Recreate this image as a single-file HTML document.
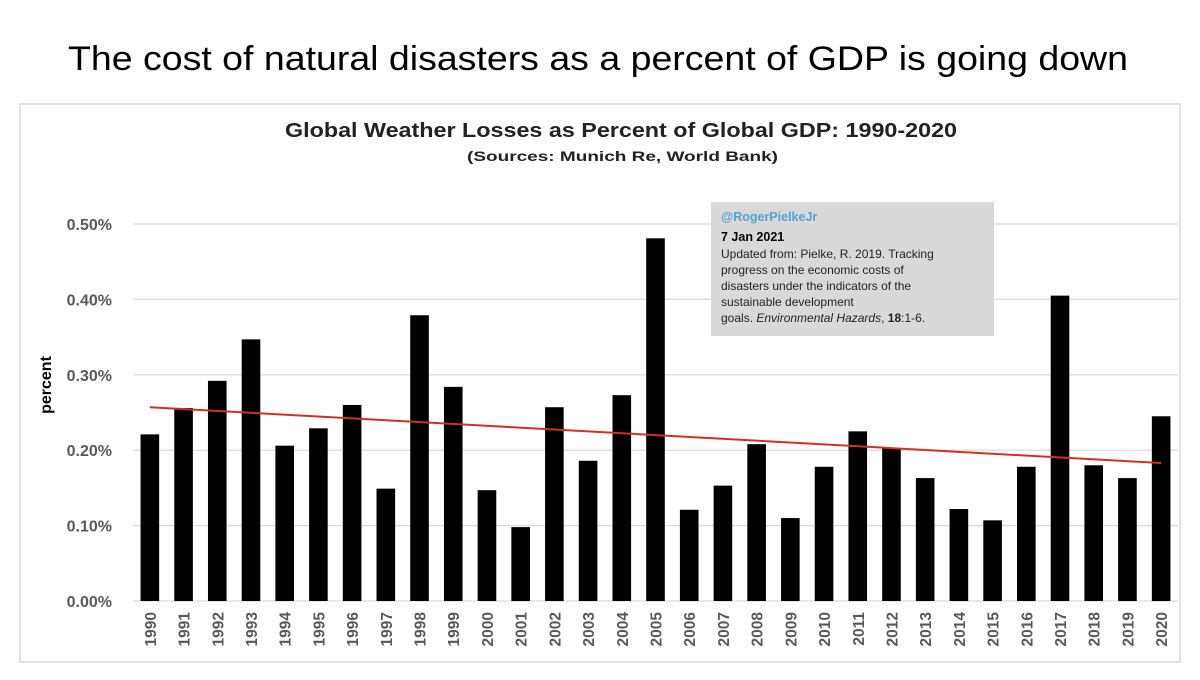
<!DOCTYPE html>
<html><head><meta charset="utf-8"><style>
body{margin:0;background:#fff;width:1200px;height:675px;overflow:hidden;font-family:"Liberation Sans",sans-serif}
</style></head><body>
<svg width="1200" height="675" xmlns="http://www.w3.org/2000/svg">
<text x="68" y="70" textLength="1060" lengthAdjust="spacingAndGlyphs" font-size="34" fill="#000">The cost of natural disasters as a percent of GDP is going down</text>
<rect x="20" y="104" width="1160" height="558" fill="#fff" stroke="#d9d9d9" stroke-width="1.5"/>
<text x="285" y="137" textLength="672" lengthAdjust="spacingAndGlyphs" font-size="20" font-weight="bold" fill="#222">Global Weather Losses as Percent of Global GDP: 1990-2020</text>
<text x="467" y="161" textLength="311" lengthAdjust="spacingAndGlyphs" font-size="14" font-weight="bold" fill="#222">(Sources: Munich Re, World Bank)</text>
<text transform="translate(51,385) rotate(-90)" text-anchor="middle" font-size="16" font-weight="bold" fill="#000">percent</text>
<g id="grid"></g><g id="bars"></g><g id="xl"></g><g id="trend"></g>
<g>
<rect x="711" y="202" width="283" height="134" fill="#d9d9d9"/>
<text x="721" y="221" font-size="12.5" font-weight="bold" fill="#4fa3d9">@RogerPielkeJr</text>
<text x="721" y="241" font-size="12.5" font-weight="bold" fill="#000">7 Jan 2021</text>
<text font-size="12" fill="#222"><tspan x="721" y="258">Updated from: Pielke, R. 2019. Tracking</tspan><tspan x="721" y="274">progress on the economic costs of</tspan><tspan x="721" y="290">disasters under the indicators of the</tspan><tspan x="721" y="306">sustainable development</tspan><tspan x="721" y="322">goals. <tspan font-style="italic">Environmental Hazards</tspan>, <tspan font-weight="bold">18</tspan>:1-6.</tspan></text>
</g>
</svg>
<script>
const years=[1990,1991,1992,1993,1994,1995,1996,1997,1998,1999,2000,2001,2002,2003,2004,2005,2006,2007,2008,2009,2010,2011,2012,2013,2014,2015,2016,2017,2018,2019,2020];
const losses=[0.221,0.256,0.292,0.347,0.206,0.229,0.260,0.149,0.379,0.284,0.147,0.098,0.257,0.186,0.273,0.481,0.121,0.153,0.208,0.110,0.178,0.225,0.203,0.163,0.122,0.107,0.178,0.405,0.180,0.163,0.245];
const yTicks=[0,0.1,0.2,0.3,0.4,0.5];
const yTickLabels=["0.00%","0.10%","0.20%","0.30%","0.40%","0.50%"];
const trendValues=[0.257,0.183];
const NS="http://www.w3.org/2000/svg";
const x0=133,x1=1178,y0=601,yTop=224;
const bw=(x1-x0)/years.length;
const X=i=>x0+bw*(i+0.5);
const Y=v=>y0-(v/0.5)*(y0-yTop);
function mk(t,a,p){const e=document.createElementNS(NS,t);for(const k in a)e.setAttribute(k,a[k]);p.appendChild(e);return e;}
const g=document.getElementById('grid');
yTicks.forEach((v,i)=>{
 const l=mk('line',{x1:x0,x2:x1,y1:Y(v),y2:Y(v),stroke:'#d9d9d9','stroke-width':1.2},g);
 
 
 const t=mk('text',{x:112,y:Y(v)+6,'text-anchor':'end','font-size':16,'font-weight':'bold',fill:'#595959'},g);
 t.textContent=yTickLabels[i];
 
 
});
const b=document.getElementById('bars'),xl=document.getElementById('xl');
years.forEach((yr,i)=>{
 const r=mk('rect',{x:X(i)-9.3,y:Y(losses[i]),width:18.6,height:y0-Y(losses[i]),fill:'#000'},b);
 
 
 const t=mk('text',{transform:`translate(${X(i)+6},612) rotate(-90)`,'text-anchor':'end','font-size':15.5,'font-weight':'bold',fill:'#595959'},xl);
 t.textContent=yr;
 
 
});
const tl=mk('line',{x1:X(0),x2:X(years.length-1),y1:Y(trendValues[0]),y2:Y(trendValues[1]),stroke:'#d0302a','stroke-width':2},document.getElementById('trend'));


</script>
</body></html>
